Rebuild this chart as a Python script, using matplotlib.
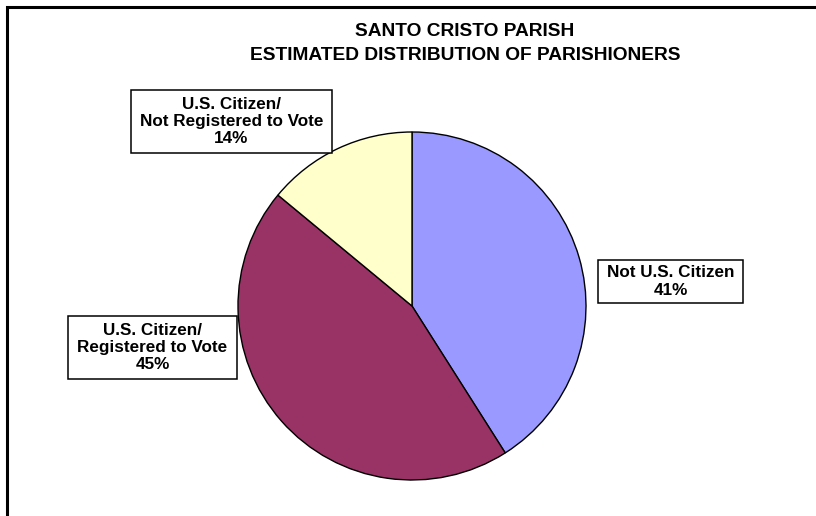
import matplotlib.pyplot as plt
from matplotlib.patches import Rectangle

# data
labels = ["Not U.S. Citizen", "U.S. Citizen/\nRegistered to Vote", "U.S. Citizen/\nNot Registered to Vote"]
shares = [41, 45, 14]
colors = ["#9999FF", "#993366", "#FFFFCC"]
title_lines = ["SANTO CRISTO PARISH", "ESTIMATED DISTRIBUTION OF PARISHIONERS"]

W, H = 816, 516
plt.rcParams['font.family'] = ['Liberation Sans', 'DejaVu Sans']

fig = plt.figure(figsize=(W / 100, H / 100), dpi=100)
ax = fig.add_axes([0, 0, 1, 1])

# pie, drawn in pixel-like units (y up)
ax.pie(shares, colors=colors, startangle=90, counterclock=False,
       center=(412, H - 306), radius=174,
       wedgeprops=dict(edgecolor="black", linewidth=1.0))
ax.set_xlim(0, W)
ax.set_ylim(0, H)
ax.set_aspect('auto')
ax.axis('off')

# outer frame (right and bottom edges fall outside the picture)
ax.add_patch(Rectangle((6.5, -20), W + 40, H - 6.5 + 20, fill=False,
                       edgecolor="black", linewidth=2.2, clip_on=False))

# title
ax.text(465, H - 32, title_lines[0], ha="center", va="center",
        fontsize=13.8, fontweight="bold")
ax.text(465, H - 55, title_lines[1], ha="center", va="center",
        fontsize=13.8, fontweight="bold")

# label boxes: (left, top, right, bottom) in image pixels
boxes = [(598, 260, 743, 303), (68, 316, 237, 379), (131, 90, 332, 153)]
for lab, val, (x0, y0, x1, y1) in zip(labels, shares, boxes):
    ax.add_patch(Rectangle((x0, H - y1), x1 - x0, y1 - y0, facecolor="white",
                           edgecolor="black", linewidth=1.1))
    ax.text((x0 + x1) / 2, H - (y0 + y1) / 2, f"{lab}\n{val}%",
            ha="center", va="center", fontsize=12.3, fontweight="bold",
            linespacing=1.2)

fig.savefig("out.png", dpi=100)
